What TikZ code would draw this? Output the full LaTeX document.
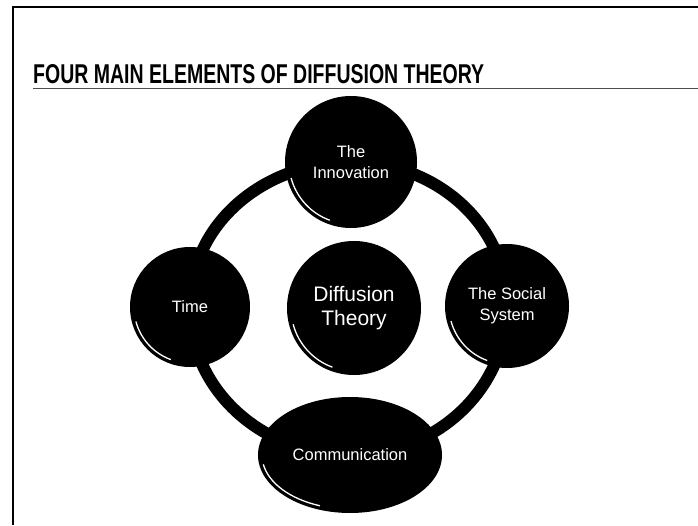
\documentclass[tikz,border=0pt]{standalone}
\usepackage{fontspec}
\setmainfont{Liberation Sans}
\newfontfamily\titlefont{Liberation Sans Bold}
\usetikzlibrary{shapes.geometric,backgrounds}
\tikzset{
  ball/.style={circle,fill=black,inner sep=0pt,text=white,align=center,
    font=\fontsize{16.5}{21}\selectfont},
  ring/.style={draw=black,line width=12pt},
  shine/.style={draw=white,line width=1.3pt},
  frameline/.style={draw=black,line width=1.5pt},
}
\begin{document}
\begin{tikzpicture}[x=1pt,y=1pt]
\useasboundingbox (0,0) rectangle (698,525);
% frame
\coordinate (tl) at (13,518);
\coordinate (tr) at (698,518);
\coordinate (bl) at (13,0);
\draw[frameline] (tr) -- (tl) -- (bl);
% title
\node[anchor=base west,inner sep=0pt] (title) at (33,441)
  {\resizebox{451pt}{19pt}{\titlefont FOUR MAIN ELEMENTS OF DIFFUSION THEORY}};
\coordinate (ul) at (33,436.5);
\coordinate (ur) at (698,436.5);
\draw[black!70,line width=1.2pt] (ul) -- (ur);
% nodes
\node[ball,minimum size=132pt] (inn) at (351,363) {The\\Innovation};
\node[ball,minimum size=120pt] (time) at (190,218) {Time};
\node[ball,minimum size=124pt] (soc) at (507,219) {The Social\\System};
\node[ball,minimum size=134pt,font=\fontsize{21}{24}\selectfont] (dif) at (354,217) {Diffusion\\Theory};
\node[ellipse,fill=black,inner sep=0pt,minimum width=184pt,minimum height=116pt,
  text=white,font=\fontsize{16.5}{21}\selectfont] (com) at (350,70) {Communication};
% ring
\begin{pgfonlayer}{background}
\draw[ring] (inn.center) to[out=180,in=90] (time.center)
  to[out=-90,in=180] (com.center)
  to[out=0,in=-90] (soc.center)
  to[out=90,in=0] (inn.center);
\end{pgfonlayer}
% highlights
\draw[shine] ([shift={(195:62)}]inn.center) arc[start angle=195,end angle=250,radius=62];
\draw[shine] ([shift={(195:56)}]time.center) arc[start angle=195,end angle=250,radius=56];
\draw[shine] ([shift={(195:58)}]soc.center) arc[start angle=195,end angle=250,radius=58];
\draw[shine] ([shift={(195:63)}]dif.center) arc[start angle=195,end angle=250,radius=63];
\draw[shine] ([shift={(190:88 and 54)}]com.center) arc[start angle=190,end angle=250,x radius=88,y radius=54];
\end{tikzpicture}
\end{document}
